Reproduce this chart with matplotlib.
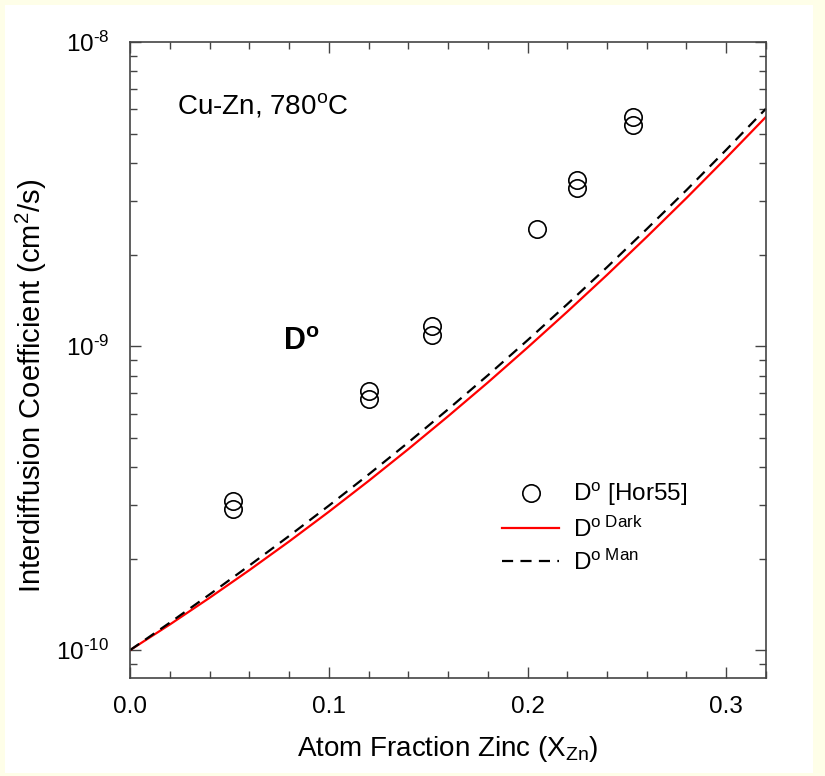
import math
import matplotlib
matplotlib.use('Agg')
import matplotlib.pyplot as plt
from matplotlib.ticker import LogLocator, MultipleLocator, NullFormatter
from matplotlib.patches import Rectangle

plt.rcParams['font.family'] = ['Liberation Sans', 'DejaVu Sans']
plt.rcParams['mathtext.fontset'] = 'custom'
plt.rcParams['mathtext.rm'] = 'Liberation Sans'
plt.rcParams['mathtext.it'] = 'Liberation Sans'
plt.rcParams['mathtext.bf'] = 'Liberation Sans:bold'

# measured data [Hor55]
x_hor = [0.052, 0.052, 0.120, 0.120, 0.152, 0.152, 0.205, 0.225, 0.225, 0.253, 0.253]
d_hor = [3.10e-10, 2.92e-10, 7.13e-10, 6.70e-10, 1.167e-9, 1.086e-9,
         2.42e-9, 3.53e-9, 3.31e-9, 5.66e-9, 5.35e-9]

# calculated curves
x_calc = [0.00, 0.02, 0.04, 0.06, 0.08, 0.10, 0.12, 0.14, 0.16,
          0.18, 0.20, 0.22, 0.24, 0.26, 0.28, 0.30, 0.32]
d_dark = [1.000e-10, 1.214e-10, 1.486e-10, 1.832e-10, 2.276e-10, 2.851e-10,
          3.600e-10, 4.581e-10, 5.875e-10, 7.586e-10, 9.886e-10, 1.297e-9,
          1.714e-9, 2.286e-9, 3.069e-9, 4.159e-9, 5.675e-9]
d_man = [1.000e-10, 1.231e-10, 1.524e-10, 1.897e-10, 2.373e-10, 2.985e-10,
         3.780e-10, 4.819e-10, 6.192e-10, 8.010e-10, 1.045e-9, 1.373e-9,
         1.817e-9, 2.426e-9, 3.259e-9, 4.421e-9, 6.038e-9]


def log_label(v, pos):
    # "10" with a short hyphen in the exponent, like the original
    exp = int(round(math.log10(v)))
    if exp < 0:
        return '10$^{\\mathrm{\u2010' + str(-exp) + '}}$'
    return '10$^{' + str(exp) + '}$'


fig = plt.figure(figsize=(8.25, 7.76), dpi=100)
fig.patch.set_facecolor('#FEFEE8')
fig.patches.append(Rectangle((5 / 825, 3 / 776), 808 / 825, 768 / 776,
                             transform=fig.transFigure, facecolor='white',
                             edgecolor='none', zorder=-10))

ax = fig.add_axes([130 / 825, 1 - 678 / 776, 636 / 825, 636 / 776])

ax.plot(x_calc, d_dark, color='red', lw=1.6, label=r'D$^{\mathrm{o\ Dark}}$')
ax.plot(x_calc, d_man, color='black', lw=1.6, ls=(0, (5, 3.3)),
        label=r'D$^{\mathrm{o\ Man}}$')
ax.plot(x_hor, d_hor, 'o', mfc='none', mec='black', mew=1.2, ms=12.5,
        label=r'D$^{\mathrm{o}}$ [Hor55]')

ax.set_yscale('log')
ax.set_xlim(0, 0.32)
ax.set_ylim(8.1e-11, 1e-8)

ax.xaxis.set_major_locator(MultipleLocator(0.1))
ax.xaxis.set_minor_locator(MultipleLocator(0.02))
ax.xaxis.set_major_formatter(plt.FuncFormatter(lambda v, p: f'{v:.1f}'))
ax.yaxis.set_major_locator(LogLocator(base=10, numticks=10))
ax.yaxis.set_minor_locator(LogLocator(base=10, subs=range(2, 10), numticks=20))
ax.yaxis.set_major_formatter(plt.FuncFormatter(log_label))
ax.yaxis.set_minor_formatter(NullFormatter())

for s in ax.spines.values():
    s.set_color('#444444')
    s.set_linewidth(1.2)
ax.tick_params(which='both', direction='in', top=True, right=True,
               color='#444444', width=1.0)
ax.tick_params(which='major', length=8, labelsize=17.5)
ax.tick_params(axis='x', which='major', pad=13)
ax.tick_params(axis='y', which='major', pad=15)
ax.tick_params(which='minor', length=5)

ax.set_xlabel(r'Atom Fraction Zinc (X$_{\mathrm{Zn}}$)', fontsize=20)
ax.set_ylabel(r'Interdiffusion Coefficient (cm$^{2}$/s)', fontsize=21)
ax.xaxis.set_label_coords(0.5, -0.088)
ax.yaxis.set_label_coords(-0.128, 0.46)

ax.text(0.074, 0.888, r'Cu-Zn, 780$^{\mathrm{o}}$C', transform=ax.transAxes,
        fontsize=20)
ax.text(0.240, 0.515, r'$\mathbf{D^{o}}$', transform=ax.transAxes,
        fontsize=22)

handles, labels = ax.get_legend_handles_labels()
order = [2, 0, 1]
ax.legend([handles[i] for i in order], [labels[i] for i in order],
          loc='upper left', bbox_to_anchor=(0.551, 0.344), frameon=False,
          fontsize=17.5, handlelength=2.35, handletextpad=0.55,
          labelspacing=0.33)

fig.savefig('out.png', dpi=100, facecolor=fig.get_facecolor())
